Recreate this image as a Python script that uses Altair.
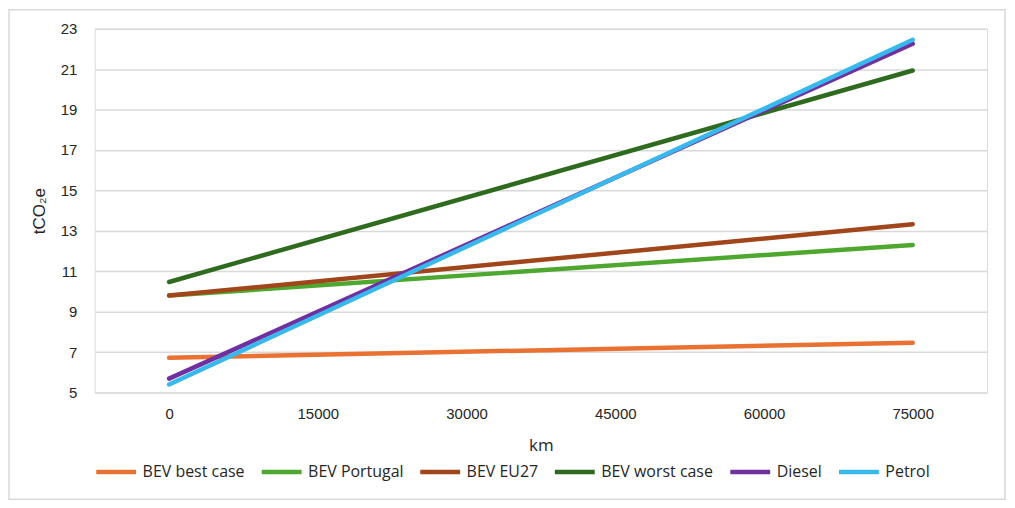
import altair as alt
import pandas as pd

series = ["BEV best case", "BEV Portugal", "BEV EU27", "BEV worst case", "Diesel", "Petrol"]
colors = ["#E97132", "#4EA72E", "#A0461A", "#2F6B1F", "#7030A0", "#38B8EC"]
km = [0, 75000]
values = {
    "BEV best case": [6.72, 7.47],
    "BEV Portugal": [9.8, 12.3],
    "BEV EU27": [9.8, 13.33],
    "BEV worst case": [10.47, 20.93],
    "Diesel": [5.69, 22.26],
    "Petrol": [5.4, 22.45],
}
x_ticks = [0, 15000, 30000, 45000, 60000, 75000]
y_ticks = [5, 7, 9, 11, 13, 15, 17, 19, 21, 23]

rows = []
for i, s in enumerate(series):
    for k, v in zip(km, values[s]):
        rows.append({"series": s, "km": k, "value": v, "order": i})
df = pd.DataFrame(rows)

frame = alt.Chart(pd.DataFrame({"a": [0]})).mark_rect(
    fill="transparent", stroke="#d9d9d9", strokeWidth=1.5, clip=False
).encode(x=alt.value(-86), x2=alt.value(913), y=alt.value(-19), y2=alt.value(472))

lines = alt.Chart(df).mark_line(strokeWidth=4.5, strokeCap="round").encode(
    x=alt.X("km:Q", scale=alt.Scale(domain=[-7500, 82500], nice=False, zero=False),
            axis=alt.Axis(values=x_ticks, title="km", grid=False, domain=False, ticks=False,
                          labelPadding=14, titlePadding=16, format="d",
                          labelFont="Liberation Sans", labelFontSize=15, labelColor="#262626",
                          titleFont="Open Sans", titleFontSize=17, titleFontWeight="normal",
                          titleColor="#262626")),
    y=alt.Y("value:Q", scale=alt.Scale(domain=[5, 23], nice=False, zero=False),
            axis=alt.Axis(values=y_ticks, title="tCO₂e", grid=True, gridColor="#d9d9d9",
                          gridWidth=1.5, domain=False, ticks=False, labelPadding=18,
                          titlePadding=12,
                          labelFont="Liberation Sans", labelFontSize=15, labelColor="#262626",
                          titleFont="Liberation Sans", titleFontSize=17, titleFontWeight="normal",
                          titleColor="#262626")),
    color=alt.Color("series:N", scale=alt.Scale(domain=series, range=colors),
                    sort=series,
                    legend=alt.Legend(title=None, orient="none", direction="horizontal",
                                      legendX=-1, legendY=422, columns=6,
                                      symbolType="stroke", symbolSize=1600,
                                      symbolStrokeWidth=4.5, columnPadding=7,
                                      labelOffset=4, labelFont="Open Sans",
                                      labelFontSize=16, labelColor="#262626")),
    order=alt.Order("order:Q"),
    detail="series:N",
)

chart = alt.layer(frame, lines).properties(
    width=895, height=365,
    autosize=alt.AutoSizeParams(type="none"),
    padding={"left": 87, "top": 20, "right": 20, "bottom": 110},
).configure_view(stroke=None).configure(background="white")

chart.save("out.html", embed_options={"renderer": "svg", "actions": False})
